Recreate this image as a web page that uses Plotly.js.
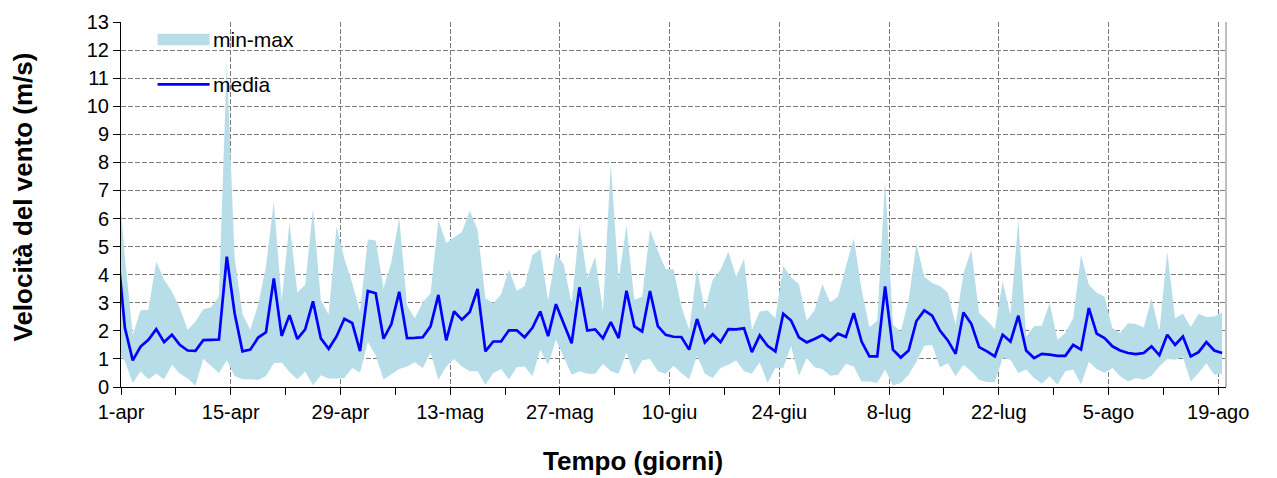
<!DOCTYPE html>
<html>
<head>
<meta charset="utf-8">
<script src="https://cdn.plot.ly/plotly-3.0.1.min.js"></script>
<style>html,body{margin:0;padding:0;background:#fff;} #chart{width:1277px;height:478px;}</style>
</head>
<body>
<div id="chart"></div>
<script>
// first entry is 31-mar (only partly visible, clipped at the axis), then 1-apr ... 19-ago
const startDate = '2013-03-31';
const xTickLabels = ['1-apr','15-apr','29-apr','13-mag','27-mag','10-giu','24-giu','8-lug','22-lug','5-ago','19-ago'];
const seriesNames = ['min-max', 'media'];
const xTitle = 'Tempo (giorni)';
const yTitle = 'Velocità del vento (m/s)';

const windMean = [5.06,
 2.10,0.95,1.44,1.68,2.06,1.60,1.86,1.50,1.30,1.29,
 1.67,1.68,1.69,4.64,2.63,1.27,1.33,1.76,1.95,3.87,
 1.82,2.56,1.71,2.05,3.05,1.73,1.36,1.80,2.43,2.28,
 1.28,3.42,3.34,1.72,2.24,3.39,1.74,1.75,1.77,2.16,
 3.28,1.66,2.69,2.40,2.67,3.49,1.27,1.62,1.62,2.02,
 2.02,1.77,2.11,2.69,1.81,2.95,2.27,1.56,3.55,2.01,
 2.05,1.73,2.31,1.74,3.43,2.16,1.98,3.42,2.17,1.86,
 1.79,1.78,1.33,2.42,1.59,1.88,1.60,2.06,2.05,2.09,
 1.24,1.84,1.47,1.27,2.61,2.37,1.77,1.59,1.71,1.85,
 1.65,1.90,1.78,2.63,1.62,1.09,1.09,3.58,1.33,1.05,
 1.30,2.35,2.73,2.54,2.01,1.66,1.18,2.65,2.25,1.42,
 1.27,1.09,1.86,1.62,2.54,1.30,1.03,1.18,1.15,1.11,
 1.11,1.50,1.33,2.81,1.90,1.74,1.45,1.30,1.21,1.17,
 1.21,1.45,1.13,1.86,1.50,1.80,1.09,1.24,1.60,1.30,
 1.21];

const windMax = [8.0,
 4.60,1.85,2.73,2.75,4.47,3.82,3.40,2.81,2.04,2.33,
 2.77,2.84,3.22,11.6,4.60,2.60,2.04,2.93,4.29,6.60,
 3.07,5.86,3.37,3.64,6.35,3.10,2.57,5.72,4.58,3.70,
 2.69,5.25,5.22,3.52,4.45,6.03,2.90,2.45,3.02,3.34,
 5.95,5.13,5.31,5.52,6.28,5.59,3.16,2.98,3.30,4.18,
 3.43,3.59,4.69,4.91,3.08,4.77,4.35,2.96,5.75,3.87,
 4.64,2.70,7.93,3.82,5.75,3.11,3.21,5.59,4.85,4.19,
 4.19,2.87,2.04,4.19,2.75,3.82,4.17,4.82,3.93,4.56,
 2.04,2.69,2.73,2.45,4.32,3.91,3.66,2.37,2.73,3.66,
 3.01,3.22,4.29,5.30,3.46,2.13,2.37,7.35,2.22,1.98,
 3.10,5.10,3.93,3.70,3.60,3.36,2.22,4.05,4.88,2.63,
 2.37,2.06,3.76,2.57,5.95,1.80,2.16,2.18,2.99,1.68,
 1.92,2.45,4.70,3.64,3.36,3.22,2.10,1.92,2.27,2.24,
 2.12,3.16,1.98,4.82,2.45,2.61,2.13,2.61,2.49,2.51,
 2.65];

const windMin = [1.29,
 0.91,0.14,0.55,0.28,0.47,0.28,0.79,0.48,0.30,0.05,
 1.00,0.75,0.50,0.95,0.39,0.28,0.28,0.25,0.39,0.85,
 0.87,0.53,0.28,0.55,0.06,0.42,0.30,0.30,0.32,0.68,
 0.51,1.60,1.13,0.27,0.44,0.64,0.73,0.88,0.68,1.21,
 0.26,0.73,1.00,0.73,0.56,0.56,0.08,0.50,0.64,0.28,
 0.70,0.73,0.38,1.33,0.79,1.68,1.07,0.44,0.56,0.47,
 0.47,0.83,0.56,0.47,1.23,0.44,0.95,1.00,0.56,0.47,
 0.76,0.50,0.28,1.11,0.47,0.32,0.68,0.79,0.94,0.56,
 0.47,0.88,0.14,0.68,0.68,1.45,0.40,1.03,0.70,0.64,
 0.40,0.44,0.83,0.73,0.20,0.20,0.14,0.62,0.05,0.14,
 0.44,0.90,1.47,1.50,0.70,0.85,0.38,0.79,0.56,0.26,
 0.18,0.18,1.03,0.97,0.50,0.62,0.32,0.12,0.38,0.08,
 0.56,0.62,0.10,0.90,0.64,0.50,0.68,0.38,0.20,0.32,
 0.26,0.40,0.73,1.00,0.97,1.07,0.20,0.50,0.85,0.44,
 0.47];

const DAY = 86400000;
function isoAt(ms){ return new Date(ms).toISOString().slice(0,19).replace('T',' '); }
const t0 = Date.parse(startDate + 'T00:00:00Z');
// each daily value sits in the middle of its day
const xDates = windMean.map((_, i) => isoAt(t0 + i*DAY + DAY/2));
const axisStart = t0 + DAY;                    // 1-apr
const axisEnd = t0 + (windMean.length) * DAY;   // end of 19-ago
const majorTicks = xTickLabels.map((_, i) => isoAt(axisStart + i*14*DAY));
const minorTicks = xTickLabels.slice(0, -1).map((_, i) => isoAt(axisStart + (i*14+7)*DAY));

const bandColor = '#B7DDE8';
const font = 'Liberation Sans, Arial, sans-serif';

const traces = [
  {x: xDates, y: windMin, type: 'scatter', mode: 'lines', line: {width: 0, color: bandColor},
   showlegend: false, hoverinfo: 'skip'},
  {x: xDates, y: windMax, type: 'scatter', mode: 'lines', line: {width: 0, color: bandColor},
   fill: 'tonexty', fillcolor: bandColor, name: seriesNames[0], showlegend: false},
  {x: xDates, y: windMean, type: 'scatter', mode: 'lines', line: {width: 2.7, color: '#0000FF'},
   name: seriesNames[1], showlegend: false}
];

const grid = {gridcolor: '#7a7a7a', gridwidth: 1, griddash: '5px,2px'};

const layout = {
  width: 1277, height: 478,
  margin: {l: 121, r: 51, t: 22, b: 91},
  paper_bgcolor: '#fff', plot_bgcolor: '#fff',
  font: {family: font, size: 20, color: '#000'},
  xaxis: Object.assign({
    type: 'date',
    range: [isoAt(axisStart), isoAt(axisEnd)],
    tickmode: 'array', tickvals: majorTicks, ticktext: xTickLabels,
    ticks: 'outside', ticklen: 7, tickwidth: 1, tickcolor: '#000',
    minor: {tickmode: 'array', tickvals: minorTicks, ticks: 'outside', ticklen: 7, tickwidth: 1, tickcolor: '#000', showgrid: false},
    showline: true, linecolor: '#000', linewidth: 1,
    showgrid: true, zeroline: false,
    tickfont: {family: font, size: 20, color: '#000'}
  }, grid),
  yaxis: Object.assign({
    range: [0, 13], tickmode: 'linear', tick0: 0, dtick: 1,
    ticks: 'outside', ticklen: 7, tickwidth: 1, tickcolor: '#000',
    showline: true, linecolor: '#000', linewidth: 1,
    showgrid: true, zeroline: false,
    tickfont: {family: font, size: 20, color: '#000'}
  }, grid),
  shapes: [
    {type: 'line', xref: 'paper', yref: 'paper', x0: 1, x1: 1, y0: 0, y1: 1, line: {color: '#7f7f7f', width: 1}},
    {type: 'rect', xref: 'paper', yref: 'paper', x0: 0.0331, x1: 0.0802, y0: 0.936, y1: 0.968, fillcolor: bandColor, line: {width: 0}},
    {type: 'line', xref: 'paper', yref: 'paper', x0: 0.0331, x1: 0.0802, y0: 0.829, y1: 0.829, line: {color: '#0000FF', width: 2.7}}
  ],
  annotations: [
    {xref: 'paper', yref: 'paper', x: 0.0815, y: 0.952, xanchor: 'left', yanchor: 'middle', text: seriesNames[0], showarrow: false, font: {family: font, size: 21, color: '#000'}},
    {xref: 'paper', yref: 'paper', x: 0.0815, y: 0.829, xanchor: 'left', yanchor: 'middle', text: seriesNames[1], showarrow: false, font: {family: font, size: 21, color: '#000'}},
    {xref: 'paper', yref: 'paper', x: 0.4635, y: -0.204, xanchor: 'center', yanchor: 'middle', text: '<b>' + xTitle + '</b>', showarrow: false, font: {family: font, size: 26, color: '#000'}},
    {xref: 'paper', yref: 'paper', x: -0.0884, y: 0.52, xanchor: 'center', yanchor: 'middle', textangle: -90, text: '<b>' + yTitle + '</b>', showarrow: false, font: {family: font, size: 26, color: '#000'}}
  ]
};

Plotly.newPlot('chart', traces, layout, {staticPlot: true, displayModeBar: false});
</script>
</body>
</html>
